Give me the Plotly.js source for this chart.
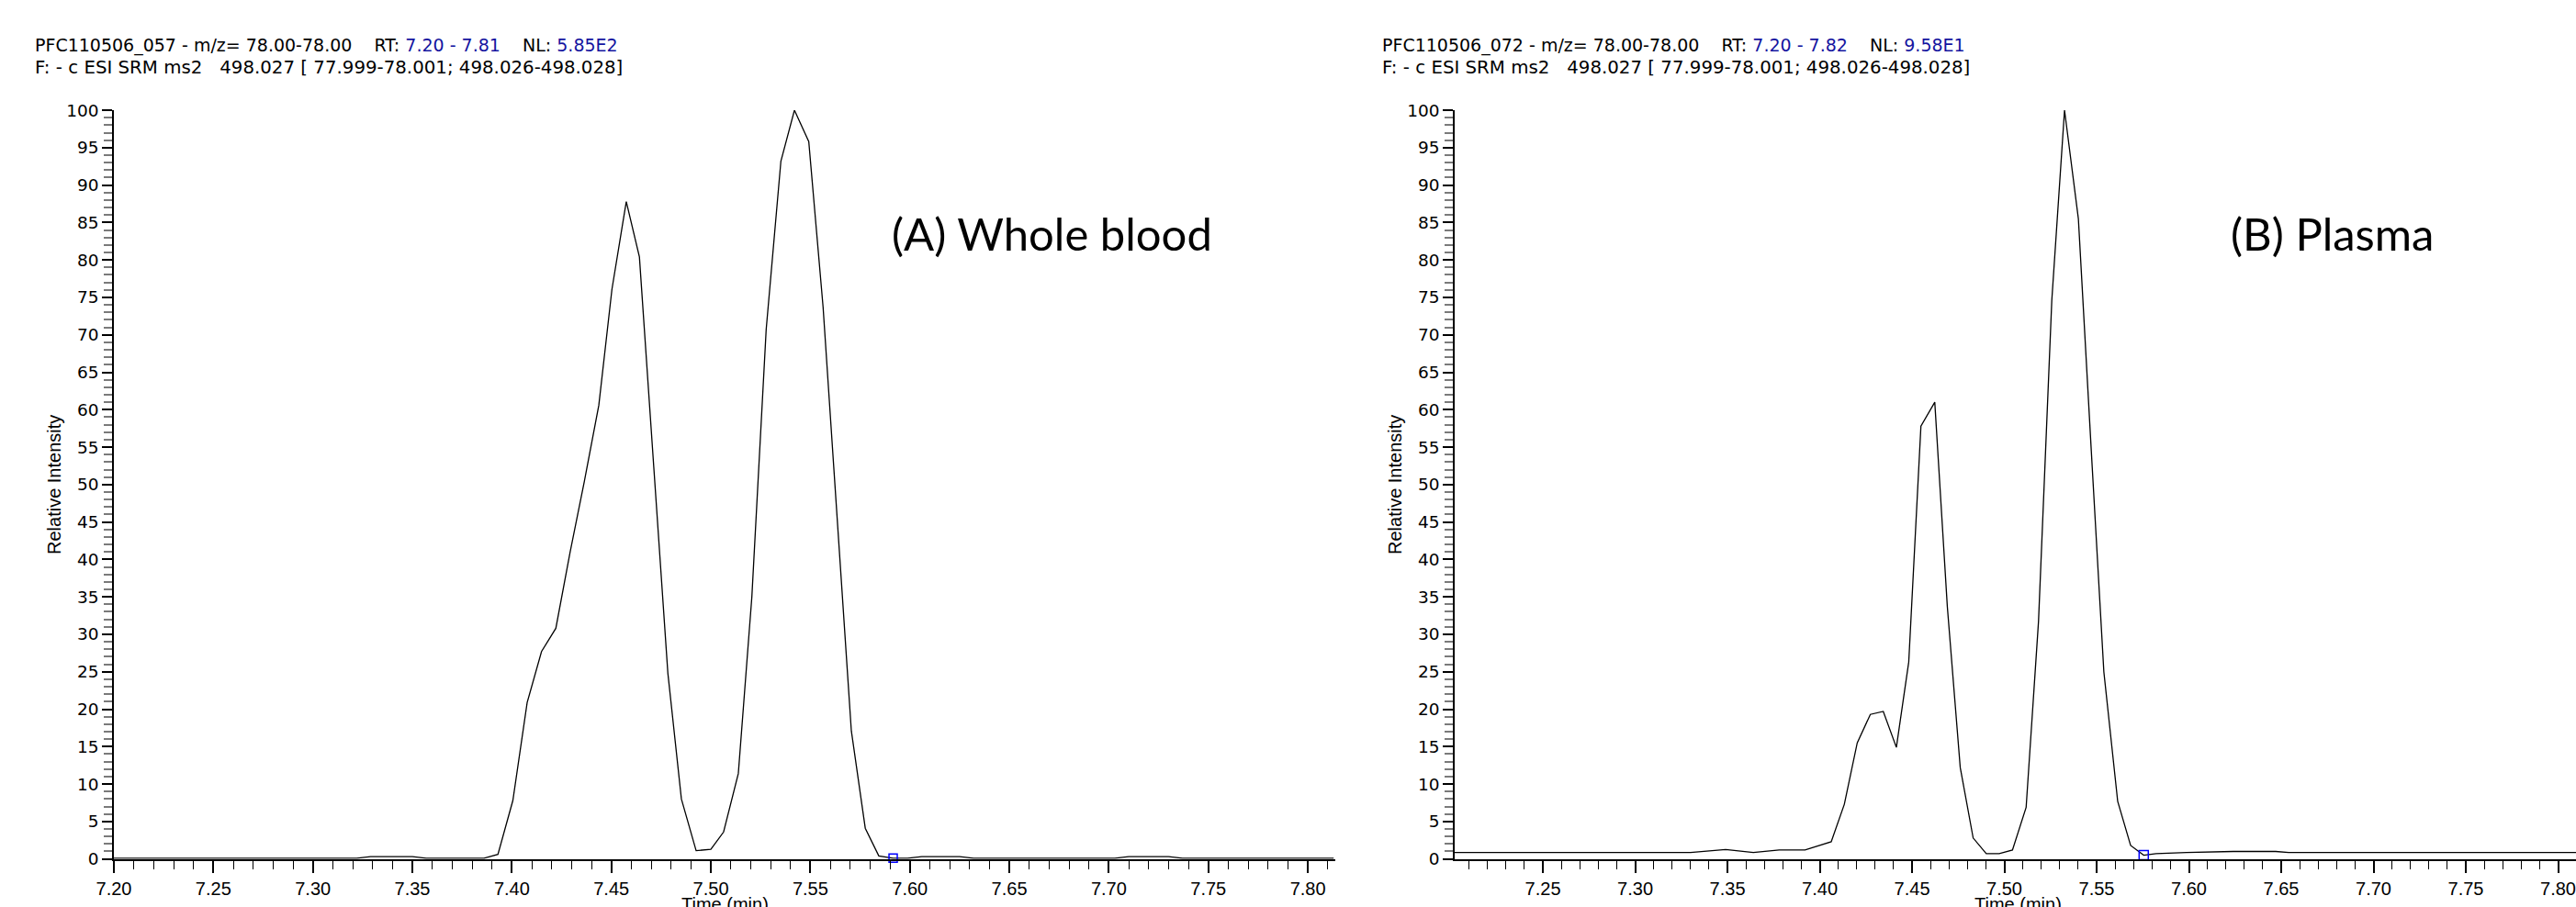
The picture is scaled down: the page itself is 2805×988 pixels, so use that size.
<!DOCTYPE html>
<html>
<head>
<meta charset="utf-8">
<script src="https://cdn.plot.ly/plotly-3.0.1.min.js"></script>
<style>
  html, body { margin: 0; padding: 0; background: #fff; }
  #chart { width: 2805px; height: 988px; }
</style>
</head>
<body>
<div id="chart"></div>
<script>
// ---- Data ----
// (A) Whole blood: retention time (min) and relative intensity (%)
const timeA = [7.200, 7.250, 7.300, 7.322, 7.329, 7.350, 7.357, 7.386, 7.393,
  7.4005, 7.4077, 7.4149, 7.4221, 7.4293, 7.4364, 7.4437, 7.4503, 7.4575, 7.4641,
  7.4713, 7.4784, 7.4852, 7.4926, 7.5000, 7.5064, 7.5138, 7.5206, 7.5278, 7.5352,
  7.5420, 7.5492, 7.5564, 7.5636, 7.5706, 7.5776, 7.5844, 7.5916, 7.5988, 7.6060,
  7.6250, 7.6320, 7.7030, 7.7100, 7.7300, 7.7370, 7.8130];
const intensityA = [0.1, 0.1, 0.1, 0.1, 0.3, 0.3, 0.1, 0.1, 0.6,
  7.8, 20.9, 27.7, 30.8, 41.0, 50.4, 60.6, 76.1, 87.8, 80.4,
  52.7, 24.8, 8.0, 1.1, 1.3, 3.6, 11.4, 35.0, 70.7, 93.2,
  100.0, 95.8, 73.7, 44.5, 17.1, 4.1, 0.4, 0.1, 0.1, 0.3,
  0.3, 0.1, 0.1, 0.3, 0.3, 0.1, 0.1];

// (B) Plasma
const timeB = [7.2022, 7.2500, 7.3000, 7.3300, 7.3490, 7.3640, 7.3780, 7.3920,
  7.4062, 7.4133, 7.4203, 7.4274, 7.4344, 7.4415, 7.4482, 7.4548, 7.4623, 7.4691,
  7.4761, 7.4831, 7.4902, 7.4972, 7.5044, 7.5118, 7.5185, 7.5257, 7.5326, 7.5401,
  7.5471, 7.5539, 7.5614, 7.5684, 7.5755, 7.5822, 7.5987, 7.6240, 7.6470, 7.6540,
  7.7000, 7.7500, 7.8097];
const intensityB = [0.85, 0.85, 0.85, 0.85, 1.25, 0.85, 1.2, 1.2,
  2.3, 7.3, 15.5, 19.3, 19.7, 14.9, 26.3, 57.8, 61.0, 33.7,
  12.2, 2.8, 0.7, 0.7, 1.2, 6.9, 31.7, 74.6, 100.0, 85.5,
  54.5, 25.0, 7.7, 1.8, 0.5, 0.7, 0.85, 1.0, 1.0, 0.85,
  0.85, 0.85, 0.85];

// Peak-apex / integration markers (blue squares)
const markerA = { t: [7.5916], v: [0.1] };
const markerB = { t: [7.5755], v: [0.5] };

// Header / labels
const NB = '\u00a0';
const blue = s => '<span style="color:#1414a0">' + s + '</span>';
const headerA1 = 'PFC110506_057 - m/z= 78.00-78.00' + NB.repeat(4) + 'RT: ' + blue('7.20 - 7.81') + NB.repeat(4) + 'NL: ' + blue('5.85E2');
const headerB1 = 'PFC110506_072 - m/z= 78.00-78.00' + NB.repeat(4) + 'RT: ' + blue('7.20 - 7.82') + NB.repeat(4) + 'NL: ' + blue('9.58E1');
const header2 = 'F: - c ESI SRM ms2' + NB.repeat(3) + '498.027 [ 77.999-78.001; 498.026-498.028]';
const panelLabels = ['(A) Whole blood', '(B) Plasma'];
const xTitle = 'Time (min)';
const yTitle = 'Relative Intensity';

// ---- Plot ----
const W = 2805, H = 988;
const px = v => v / W;
const py = v => 1 - v / H;

const lineStyle = { color: '#000000', width: 1.3 };
const traces = [
  { x: timeA, y: intensityA, xaxis: 'x', yaxis: 'y', mode: 'lines', line: lineStyle, hoverinfo: 'x+y' },
  { x: timeB, y: intensityB, xaxis: 'x2', yaxis: 'y2', mode: 'lines', line: lineStyle, hoverinfo: 'x+y' },
  { x: markerA.t, y: markerA.v, xaxis: 'x', yaxis: 'y', mode: 'markers', cliponaxis: false,
    marker: { symbol: 'square-open', size: 9, color: '#0000ff', line: { width: 1.5, color: '#0000ff' } } },
  { x: markerB.t, y: markerB.v, xaxis: 'x2', yaxis: 'y2', mode: 'markers', cliponaxis: false,
    marker: { symbol: 'square-open', size: 10, color: '#0000ff', line: { width: 1.5, color: '#0000ff' } } }
];

const tickFontX = { family: 'Liberation Sans, Arial, sans-serif', size: 20, color: '#000' };
const tickFontY = { family: 'DejaVu Sans, Verdana, sans-serif', size: 18.5, color: '#000' };
const titleFont = { family: 'Liberation Sans, Arial, sans-serif', size: 20, color: '#000' };

function xAxis(domain, range, anchor) {
  return {
    domain: domain, range: range, anchor: anchor,
    tick0: 7.2, dtick: 0.05, tickformat: '.2f',
    ticks: 'outside', ticklen: 13, tickwidth: 1.5, tickcolor: '#000',
    minor: { dtick: 0.01, tick0: 7.2, ticks: 'outside', ticklen: 9, tickwidth: 1, tickcolor: '#000', showgrid: false },
    showline: true, linecolor: '#000', linewidth: 2,
    showgrid: false, zeroline: false, fixedrange: true,
    tickfont: tickFontX
  };
}
function yAxis(anchor) {
  return {
    domain: [0.0530, 0.8785], range: [0, 100], anchor: anchor,
    tick0: 0, dtick: 5,
    ticks: 'outside', ticklen: 11, tickwidth: 1.5, tickcolor: '#000',
    minor: { dtick: 1, tick0: 0, ticks: 'outside', ticklen: 9, tickwidth: 1.5, tickcolor: '#7a7a7a', showgrid: false },
    showline: true, linecolor: '#000', linewidth: 1.5,
    showgrid: false, zeroline: false, fixedrange: true,
    tickfont: tickFontY
  };
}

const line1Font = { family: 'DejaVu Sans, Liberation Sans, sans-serif', size: 19, color: '#000' };
const line2Font = { family: 'DejaVu Sans, Liberation Sans, sans-serif', size: 19.8, color: '#000' };
const labelFont = { family: 'Lato, Open Sans, sans-serif', size: 49, color: '#000' };
function ann(text, x, y, font, extra) {
  return Object.assign({ text: text, x: x, y: y, xref: 'paper', yref: 'paper', xanchor: 'left', yanchor: 'middle',
           showarrow: false, font: font, align: 'left' }, extra || {});
}

const layout = {
  width: W, height: H,
  margin: { l: 0, r: 0, t: 0, b: 0, pad: 0 },
  paper_bgcolor: '#ffffff', plot_bgcolor: '#ffffff',
  showlegend: false,
  xaxis: xAxis([px(124), px(1454)], [7.20, 7.8138], 'y'),
  yaxis: yAxis('x'),
  xaxis2: xAxis([px(1584), 1], [7.2022, 7.8097], 'y2'),
  yaxis2: yAxis('x2'),
  annotations: [
    ann(headerA1, px(36), py(50), line1Font),
    ann(header2, px(36), py(73.5), line2Font),
    ann(headerB1, px(1503), py(50), line1Font),
    ann(header2, px(1503), py(73.5), line2Font),
    ann(panelLabels[0], px(969), py(254), labelFont),
    ann(panelLabels[1], px(2427), py(254), labelFont),
    // axis titles
    ann(xTitle, px(789), py(972), titleFont, { xanchor: 'center', yanchor: 'top' }),
    ann(xTitle, px(2197), py(972), titleFont, { xanchor: 'center', yanchor: 'top' }),
    ann(yTitle, px(59), py(528), titleFont, { xanchor: 'center', yanchor: 'middle', textangle: -90 }),
    ann(yTitle, px(1519), py(528), titleFont, { xanchor: 'center', yanchor: 'middle', textangle: -90 })
  ]
};

Plotly.newPlot('chart', traces, layout, { displayModeBar: false, responsive: false });
</script>
</body>
</html>
